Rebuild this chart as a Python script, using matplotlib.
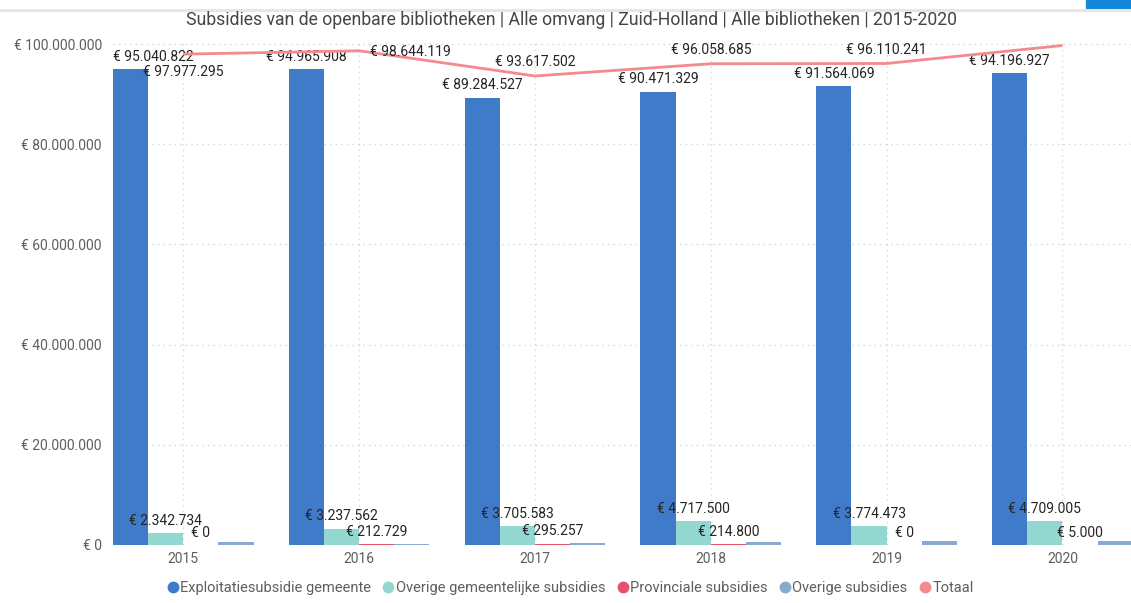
import numpy as np
import matplotlib.pyplot as plt
from matplotlib.lines import Line2D
from matplotlib.patches import Rectangle
from matplotlib.ticker import FuncFormatter

plt.rcParams['font.family'] = ['Roboto', 'DejaVu Sans']

years = ['2015', '2016', '2017', '2018', '2019', '2020']
exploitatie = [95040822, 94965908, 89284527, 90471329, 91564069, 94196927]
overige_gemeentelijk = [2342734, 3237562, 3705583, 4717500, 3774473, 4709005]
provinciaal = [0, 212729, 295257, 214800, 0, 5000]
overige = [593739, 227920, 332135, 655056, 771699, 790000]
totaal = [97977295, 98644119, 93617502, 96058685, 96110241, 99700932]

series = [
    ('Exploitatiesubsidie gemeente', exploitatie, '#3F7BC8', True),
    ('Overige gemeentelijke subsidies', overige_gemeentelijk, '#93D8D0', True),
    ('Provinciale subsidies', provinciaal, '#E8506B', True),
    ('Overige subsidies', overige, '#88AACF', False),
]
line_color = '#F4898E'
label_color = '#252423'
axis_color = '#605E5C'


def euro(v):
    return '€ ' + f'{int(round(v)):,}'.replace(',', '.')


fig = plt.figure(figsize=(11.31, 6.03), dpi=100)
ax = fig.add_axes([113 / 1131, 58 / 603, 1018 / 1131, 505 / 603])

x = np.arange(len(years))
w = 0.2

for k, (name, vals, color, labelled) in enumerate(series):
    pos = x + (k - 1.5) * w
    ax.bar(pos, vals, width=w, color=color, zorder=2)
    if not labelled:
        continue
    for i, v in enumerate(vals):
        if k == 0 and i == 0:
            # label pushed against the left edge of the plot
            ax.annotate(euro(v), (-0.4, v), xytext=(0, 6), textcoords='offset points',
                        ha='left', va='baseline', fontsize=10, color=label_color)
        else:
            ax.annotate(euro(v), (pos[i], v), xytext=(0, 6), textcoords='offset points',
                        ha='center', va='baseline', fontsize=10, color=label_color)

ax.plot(x, totaal, color=line_color, lw=2, zorder=3, solid_capstyle='butt')

# total labels, placed like the original avoids collisions
total_offsets = [(0, -8, 'top'), (37, -3.6, 'baseline'), (0, 7, 'baseline'),
                 (0, 7, 'baseline'), (0, 7, 'baseline'), None]
for i, v in enumerate(totaal):
    off = total_offsets[i]
    if off is None:
        continue
    ax.annotate(euro(v), (x[i], v), xytext=(off[0], off[1]), textcoords='offset points',
                ha='center', va=off[2], fontsize=10, color=label_color, zorder=4)

ax.set_xlim(-0.4, 5.39)
ax.set_ylim(0, 100.8e6)
ax.set_yticks(np.arange(0, 100e6 + 1, 20e6))
ax.yaxis.set_major_formatter(FuncFormatter(lambda v, p: euro(v)))
ax.set_xticks(x)
ax.set_xticklabels(years)
ax.tick_params(axis='both', length=0, labelsize=10, labelcolor=axis_color)
ax.tick_params(axis='y', pad=8)
ax.tick_params(axis='x', pad=5)
for s in ax.spines.values():
    s.set_visible(False)
ax.grid(True, color='#D6D6D6', linestyle=(0, (1, 3)), lw=1, zorder=0)
ax.set_axisbelow(True)

fig.text(572 / 1131, 1 - 20 / 603,
         'Subsidies van de openbare bibliotheken | Alle omvang | Zuid-Holland | Alle bibliotheken | 2015-2020',
         ha='center', va='center', fontsize=12.7, color='#454545')

# top frame line and corner block
fig.add_artist(Line2D([0, 1], [1 - 9.5 / 603, 1 - 9.5 / 603], color='#E6E6E6', lw=2.2,
                      transform=fig.transFigure))
fig.add_artist(Rectangle((1086 / 1131, 1 - 8 / 603), 45 / 1131, 8 / 603,
                         color='#1487DA', transform=fig.transFigure))

handles = [Line2D([], [], marker='o', ls='none', markersize=7.5, color=c, label=n)
           for n, _, c, _ in series]
handles.append(Line2D([], [], marker='o', ls='none', markersize=7.5, color=line_color, label='Totaal'))
fig.legend(handles=handles, loc='center', bbox_to_anchor=(570 / 1131, 1 - 588 / 603), ncol=5,
           frameon=False, fontsize=10.5, labelcolor=axis_color, handletextpad=0.1,
           columnspacing=0.8, handlelength=0.8)

plt.savefig('out.png')
plt.close()
